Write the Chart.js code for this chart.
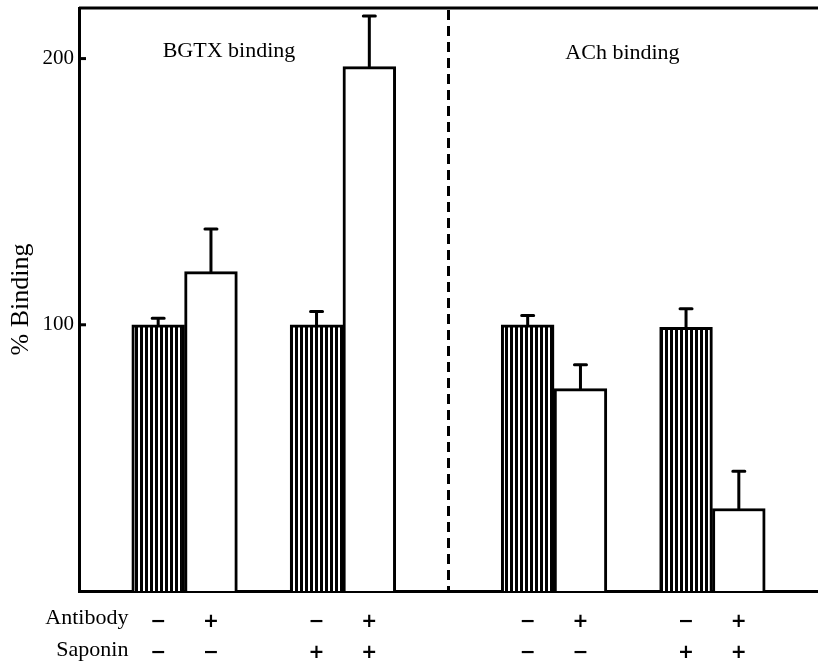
<!DOCTYPE html>
<html>
<head>
<meta charset="utf-8">
<title>% Binding</title>
<script src="https://cdn.jsdelivr.net/npm/chart.js@4.4.0/dist/chart.umd.min.js"></script>
<style>
    html, body { margin: 0; padding: 0; background: #fff; }
    #wrap { width: 818px; height: 667px; }
</style>
</head>
<body>
<div id="wrap"><canvas id="chartBinding" width="818" height="667"></canvas></div>
<script>
/* Data (one slot per column, empty slots are gaps) */
const antibodyRow   = ['', '−', '+', '', '−', '+', '', '', '−', '+', '', '−', '+', ''];
const saponinRow    = ['', '−', '−', '', '+', '+', '', '', '−', '−', '', '+', '+', ''];
const bindingValues = [null, 100, 120, null, 100, 197, null, null, 100, 76, null, 99, 31, null];
const errorValues   = [null, 2.5, 16, null, 5, 19, null, null, 3.5, 9, null, 7, 14, null];
const yTicks = [100, 200];
const sectionTitles = ['BGTX binding', 'ACh binding'];
const rowTitles = ['Antibody', 'Saponin'];

const SERIF = '"Liberation Serif", "DejaVu Serif", serif';

// vertical hatching for the control bars
function crearPatron() {
    const c = document.createElement('canvas');
    c.width = 5;
    c.height = 10;
    const g = c.getContext('2d');
    g.fillStyle = '#fff';
    g.fillRect(0, 0, 5, 10);
    g.fillStyle = '#000';
    g.fillRect(0, 0, 3, 10);
    return g.createPattern(c, 'repeat');
}

const ctx = document.getElementById('chartBinding').getContext('2d');
const hatch = crearPatron();

// error bars, frame, divider and free text
const decoracion = {
    id: 'decoracion',
    afterDatasetsDraw(chart) {
        const c = chart.ctx;
        const area = chart.chartArea;
        const xs = chart.scales.x;
        const ys = chart.scales.y;
        const meta = chart.getDatasetMeta(0);

        c.save();
        c.strokeStyle = '#000';
        c.fillStyle = '#000';

        // error bars (upper only)
        c.lineWidth = 3;
        c.lineCap = 'round';
        bindingValues.forEach((v, i) => {
            if (v === null) return;
            const x = meta.data[i].x;
            const y0 = ys.getPixelForValue(v);
            const y1 = ys.getPixelForValue(v + errorValues[i]);
            c.beginPath();
            c.moveTo(x, y0);
            c.lineTo(x, y1);
            c.moveTo(x - 6, y1);
            c.lineTo(x + 6, y1);
            c.stroke();
        });
        c.lineCap = 'butt';

        // top frame line
        c.beginPath();
        c.moveTo(area.left, area.top);
        c.lineTo(area.right, area.top);
        c.stroke();

        // dashed divider between the two assays
        const xd = (xs.getPixelForTick(6) + xs.getPixelForTick(7)) / 2;
        c.setLineDash([10, 6]);
        c.beginPath();
        c.moveTo(xd, area.top + 2);
        c.lineTo(xd, area.bottom);
        c.stroke();
        c.setLineDash([]);

        // inward y ticks
        yTicks.forEach(t => {
            const y = ys.getPixelForValue(t);
            c.beginPath();
            c.moveTo(area.left, y);
            c.lineTo(area.left + 7, y);
            c.stroke();
        });

        // section titles
        c.font = '22px ' + SERIF;
        c.textAlign = 'center';
        c.textBaseline = 'middle';
        c.fillText(sectionTitles[0], xs.getPixelForTick(2) + 18, area.top + 43);
        c.fillText(sectionTitles[1], xs.getPixelForTick(9) + 42, area.top + 45);

        // row titles under the axis
        c.textAlign = 'right';
        const xr = xs.getPixelForTick(0) + 23;
        c.fillText(rowTitles[0], xr, area.bottom + 27);
        c.fillText(rowTitles[1], xr, area.bottom + 59);
        c.restore();
    }
};

new Chart(ctx, {
    type: 'bar',
    data: {
        labels: antibodyRow.map((a, i) => [a, saponinRow[i]]),
        datasets: [{
            data: bindingValues,
            backgroundColor: antibodyRow.map(a => a === '−' ? hatch : '#fff'),
            borderColor: '#000',
            borderWidth: 3,
            borderSkipped: 'bottom',
            barPercentage: 1,
            categoryPercentage: 1
        }]
    },
    options: {
        responsive: false,
        animation: false,
        devicePixelRatio: 1,
        layout: { padding: { top: 8, right: 0, left: 0, bottom: 0 } },
        plugins: {
            legend: { display: false },
            tooltip: { enabled: false }
        },
        scales: {
            x: {
                grid: { display: false },
                border: { display: true, color: '#000', width: 3 },
                ticks: {
                    color: '#000',
                    autoSkip: false,
                    maxRotation: 0,
                    padding: 8,
                    font: { family: '"DejaVu Sans", sans-serif', size: 19, weight: 'bold', lineHeight: 1.6 }
                },
                afterFit: scale => { scale.height = 76; }
            },
            y: {
                min: 0,
                max: 219,
                afterBuildTicks: scale => { scale.ticks = yTicks.map(v => ({ value: v })); },
                grid: { display: true, drawOnChartArea: false, drawTicks: false },
                border: { display: true, color: '#000', width: 3 },
                ticks: {
                    color: '#000',
                    padding: 5,
                    font: { family: SERIF, size: 21 }
                },
                title: {
                    display: true,
                    text: '% Binding',
                    color: '#000',
                    padding: { top: 6, bottom: 0 },
                    font: { family: SERIF, size: 26 }
                },
                afterFit: scale => {
                    scale.width = 79;
                    scale.paddingTop = 0;
                    scale.paddingBottom = 0;
                }
            }
        }
    },
    plugins: [decoracion]
});
</script>
</body>
</html>
